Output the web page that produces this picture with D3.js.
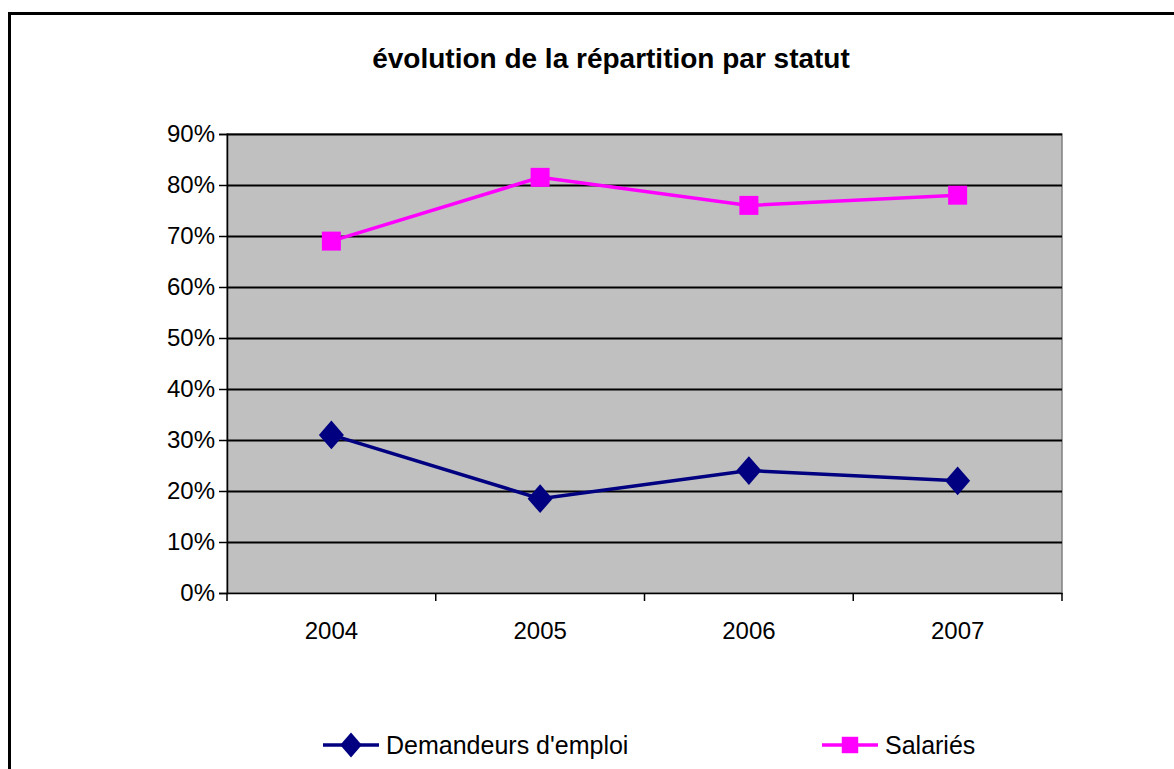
<!DOCTYPE html>
<html lang="fr">
<head>
<meta charset="UTF-8">
<title>évolution de la répartition par statut</title>
<style>
  body { margin: 0; background: #fff; }
  svg { display: block; font-family: "Liberation Sans", Arial, sans-serif; }
  .grid line { stroke: #000; stroke-width: 2; }
  .grid path { stroke-width: 0; }
  .axis text { font-size: 24px; fill: #000; }
  .axis path, .axis line { stroke: #000; stroke-width: 1.5; }
</style>
</head>
<body>
<div id="chart"></div>
<script src="https://d3js.org/d3.v7.min.js"></script>
<script>
const years = ["2004", "2005", "2006", "2007"];
const demandeurs = [0.31, 0.185, 0.24, 0.22];
const salaries = [0.69, 0.815, 0.76, 0.78];
const yTicks = [0, 0.1, 0.2, 0.3, 0.4, 0.5, 0.6, 0.7, 0.8, 0.9];

const W = 1174, H = 769;
const margin = {top: 134, right: 112, bottom: 176, left: 227};
const width = W - margin.left - margin.right;
const height = H - margin.top - margin.bottom;

const svg = d3.select("#chart").append("svg")
  .attr("width", W)
  .attr("height", H);

// outer frame with a light shadow
svg.append("rect")
  .attr("x", 11).attr("y", 15)
  .attr("width", W + 20).attr("height", H + 20)
  .attr("fill", "none").attr("stroke", "#b0b0b0").attr("stroke-width", 2);
svg.append("rect")
  .attr("x", 9.5).attr("y", 13.5)
  .attr("width", W + 20).attr("height", H + 20)
  .attr("fill", "#fff").attr("stroke", "#000").attr("stroke-width", 3);

svg.append("text")
  .attr("x", 611).attr("y", 68)
  .attr("text-anchor", "middle")
  .style("font-size", "28px").style("font-weight", "bold")
  .text("évolution de la répartition par statut");

const g = svg.append("g").attr("transform", `translate(${margin.left},${margin.top})`);

const x = d3.scaleBand().domain(years).range([0, width]);
const y = d3.scaleLinear().domain([0, 0.9]).range([height, 0]);

g.append("rect")
  .attr("width", width).attr("height", height)
  .attr("fill", "#c0c0c0").attr("stroke", "#808080").attr("stroke-width", 1.5);

g.append("g").attr("class", "grid")
  .call(d3.axisLeft(y).tickValues(yTicks.slice(1)).tickSize(-width).tickFormat(""));

g.append("g").attr("class", "axis")
  .call(d3.axisLeft(y).tickValues(yTicks).tickSize(8).tickPadding(4).tickFormat(d3.format(".0%")));

const xAxis = g.append("g").attr("class", "axis")
  .attr("transform", `translate(0,${height})`)
  .call(d3.axisBottom(x).tickSize(0).tickPadding(29));
xAxis.selectAll(".tick text").attr("dy", "0.71em");
// separators between categories
xAxis.selectAll(".sep")
  .data(years.concat(["end"]))
  .enter().append("line")
  .attr("x1", (d, i) => i * x.step()).attr("x2", (d, i) => i * x.step())
  .attr("y1", 0).attr("y2", 8)
  .attr("stroke", "#000").attr("stroke-width", 1.5);

const line = d3.line().x((d, i) => x(years[i]) + x.bandwidth() / 2).y(d => y(d));

const series = [
  {name: "Demandeurs d'emploi", values: demandeurs, color: "#000080", symbol: d3.symbolDiamond, size: 240},
  {name: "Salariés", values: salaries, color: "#ff00ff", symbol: d3.symbolSquare, size: 361}
];

series.forEach(s => {
  g.append("path")
    .datum(s.values)
    .attr("fill", "none").attr("stroke", s.color).attr("stroke-width", 3.5)
    .attr("d", line);
  g.selectAll(null)
    .data(s.values)
    .enter().append("path")
    .attr("d", d3.symbol().type(s.symbol).size(s.size))
    .attr("transform", (d, i) => `translate(${x(years[i]) + x.bandwidth() / 2},${y(d)})` + (s.symbol === d3.symbolDiamond ? " scale(1.5,1)" : ""))
    .attr("fill", s.color);
});

// legend
const legendX = [323, 822];
series.forEach((s, i) => {
  const lg = svg.append("g").attr("transform", `translate(${legendX[i]},745)`);
  lg.append("line").attr("x1", 0).attr("x2", 56).attr("stroke", s.color).attr("stroke-width", 3.5);
  lg.append("path")
    .attr("d", d3.symbol().type(s.symbol).size(s.size * 0.75))
    .attr("transform", `translate(28,0)` + (s.symbol === d3.symbolDiamond ? " scale(1.5,1)" : ""))
    .attr("fill", s.color);
  lg.append("text").attr("x", 63).attr("dy", "0.35em")
    .style("font-size", "25px").text(s.name);
});
</script>
</body>
</html>
